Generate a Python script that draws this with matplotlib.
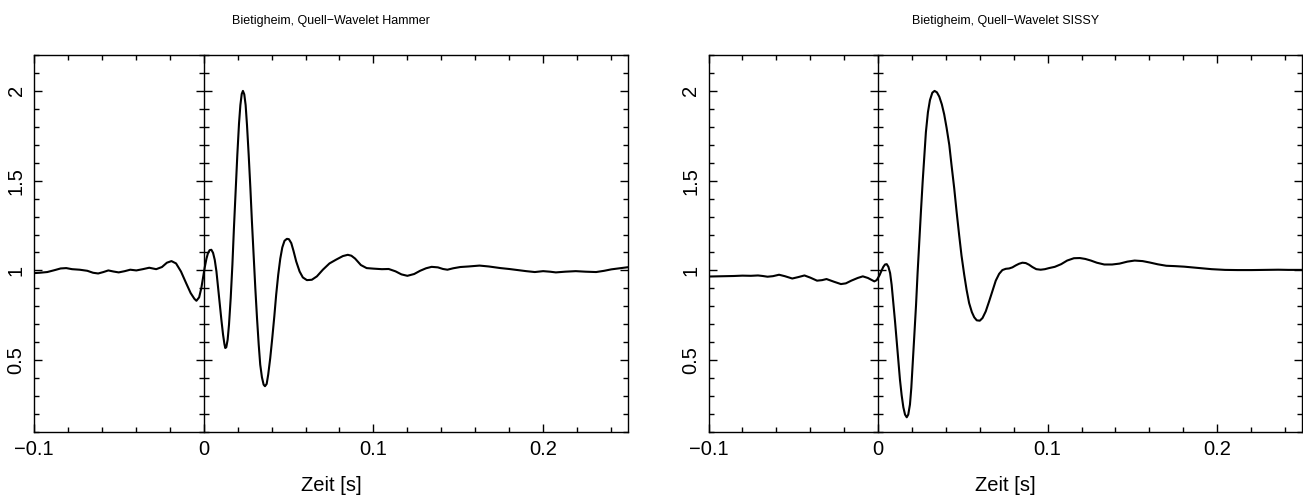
import matplotlib
matplotlib.use("Agg")
import matplotlib.pyplot as plt
from matplotlib.ticker import FixedLocator, FixedFormatter, MultipleLocator, NullLocator

plt.rcParams['font.family'] = ['Liberation Sans', 'DejaVu Sans']

# ---- text -------------------------------------------------------------
titles = ["Bietigheim, Quell\u2212Wavelet Hammer",
          "Bietigheim, Quell\u2212Wavelet SISSY"]
x_label = "Zeit [s]"
x_ticks = [-0.1, 0.0, 0.1, 0.2]
x_ticklabels = ["\u22120.1", "0", "0.1", "0.2"]
y_ticks = [0.5, 1.0, 1.5, 2.0]
y_ticklabels = ["0.5", "1", "1.5", "2"]

# ---- source wavelet, hammer blow (time [s], amplitude) ----------------
hammer_t = [-0.1001, -0.0967, -0.0922, -0.0877, -0.0843, -0.0810, -0.0776,
            -0.0731, -0.0686, -0.0652, -0.0622, -0.0591, -0.0562, -0.0532,
            -0.0501, -0.0465, -0.0433, -0.0397, -0.0359, -0.0321, -0.0280,
            -0.0246, -0.0217, -0.0190, -0.0163, -0.0134, -0.0104, -0.0077,
            -0.0055, -0.0043, -0.0027, -0.0014, -0.0004, 0.0006, 0.0016,
            0.0025, 0.0035, 0.0045, 0.0055, 0.0065, 0.0075, 0.0084, 0.0094,
            0.0104, 0.0114, 0.0122, 0.0127, 0.0133, 0.0141, 0.0149, 0.0159,
            0.0169, 0.0178, 0.0188, 0.0198, 0.0208, 0.0216, 0.0224, 0.0231,
            0.0239, 0.0247, 0.0255, 0.0265, 0.0275, 0.0284, 0.0294, 0.0304,
            0.0314, 0.0324, 0.0333, 0.0343, 0.0353, 0.0361, 0.0371, 0.0380,
            0.0392, 0.0404, 0.0416, 0.0427, 0.0439, 0.0451, 0.0463, 0.0476,
            0.0490, 0.0502, 0.0516, 0.0529, 0.0545, 0.0565, 0.0584, 0.0608,
            0.0637, 0.0667, 0.0702, 0.0741, 0.0780, 0.0820, 0.0849, 0.0870,
            0.0892, 0.0926, 0.0960, 0.1000, 0.1050, 0.1090, 0.1130, 0.1165,
            0.1200, 0.1240, 0.1275, 0.1310, 0.1343, 0.1380, 0.1410, 0.1436,
            0.1470, 0.1512, 0.1560, 0.1625, 0.1680, 0.1749, 0.1800, 0.1850,
            0.1900, 0.1951, 0.2000, 0.2040, 0.2075, 0.2130, 0.2192, 0.2250,
            0.2312, 0.2360, 0.2402, 0.2450, 0.2500]
hammer_a = [0.985, 0.987, 0.991, 1.002, 1.011, 1.013, 1.007,
            1.004, 0.998, 0.987, 0.983, 0.991, 1.000, 0.994,
            0.989, 0.996, 1.004, 1.000, 1.007, 1.015, 1.007,
            1.019, 1.043, 1.052, 1.039, 0.994, 0.930, 0.874,
            0.842, 0.831, 0.850, 0.902, 0.961, 1.017, 1.065,
            1.096, 1.113, 1.115, 1.098, 1.059, 0.994, 0.911, 0.818,
            0.726, 0.642, 0.590, 0.568, 0.572, 0.614, 0.698, 0.846,
            1.032, 1.235, 1.439, 1.643, 1.819, 1.921, 1.983, 2.000,
            1.981, 1.921, 1.810, 1.643, 1.458, 1.273, 1.087, 0.902,
            0.735, 0.587, 0.475, 0.405, 0.364, 0.355, 0.368, 0.420,
            0.512, 0.624, 0.744, 0.865, 0.976, 1.065, 1.128, 1.165,
            1.176, 1.174, 1.152, 1.109, 1.050, 0.994, 0.961, 0.946,
            0.948, 0.967, 1.004, 1.039, 1.060, 1.080, 1.087, 1.082,
            1.066, 1.030, 1.013, 1.010, 1.007, 1.008, 0.995, 0.978,
            0.970, 0.980, 0.998, 1.012, 1.020, 1.017, 1.008, 1.004,
            1.012, 1.019, 1.022, 1.027, 1.022, 1.013, 1.008, 1.002,
            0.996, 0.991, 0.996, 0.993, 0.989, 0.993, 0.996, 0.993,
            0.991, 0.998, 1.006, 1.012, 1.018]

# ---- source wavelet, SISSY (time [s], amplitude) ----------------------
sissy_t = [-0.1000, -0.0950, -0.0900, -0.0850, -0.0800, -0.0750, -0.0708,
           -0.0680, -0.0652, -0.0620, -0.0584, -0.0550, -0.0506, -0.0470,
           -0.0434, -0.0400, -0.0360, -0.0330, -0.0304, -0.0260, -0.0219,
           -0.0190, -0.0158, -0.0120, -0.0090, -0.0060, -0.0022, -0.0008,
           0.0008, 0.0020, 0.0031, 0.0041, 0.0051, 0.0061, 0.0071, 0.0080,
           0.0090, 0.0100, 0.0110, 0.0120, 0.0129, 0.0139, 0.0149, 0.0159,
           0.0169, 0.0178, 0.0188, 0.0196, 0.0204, 0.0214, 0.0224, 0.0233,
           0.0243, 0.0253, 0.0263, 0.0273, 0.0282, 0.0294, 0.0306, 0.0320,
           0.0333, 0.0347, 0.0361, 0.0376, 0.0390, 0.0404, 0.0420, 0.0433,
           0.0449, 0.0463, 0.0478, 0.0492, 0.0508, 0.0522, 0.0537, 0.0553,
           0.0567, 0.0582, 0.0600, 0.0616, 0.0635, 0.0655, 0.0675, 0.0694,
           0.0714, 0.0733, 0.0753, 0.0773, 0.0792, 0.0812, 0.0831, 0.0851,
           0.0871, 0.0890, 0.0910, 0.0933, 0.0959, 0.0984, 0.1008, 0.1042,
           0.1080, 0.1115, 0.1155, 0.1190, 0.1222, 0.1255, 0.1290, 0.1334,
           0.1380, 0.1424, 0.1470, 0.1513, 0.1560, 0.1603, 0.1650, 0.1700,
           0.1750, 0.1805, 0.1850, 0.1900, 0.1967, 0.2046, 0.2120, 0.2203,
           0.2280, 0.2360, 0.2420, 0.2500]
sissy_a = [0.966, 0.967, 0.968, 0.969, 0.971, 0.970, 0.972,
           0.969, 0.965, 0.968, 0.976, 0.968, 0.955, 0.963,
           0.972, 0.960, 0.943, 0.946, 0.952, 0.937, 0.924,
           0.928, 0.943, 0.958, 0.967, 0.958, 0.939, 0.946,
           0.972, 0.998, 1.020, 1.033, 1.035, 1.020, 0.985, 0.920,
           0.818, 0.716, 0.605, 0.494, 0.392, 0.305, 0.238, 0.197,
           0.182, 0.197, 0.253, 0.346, 0.475, 0.642, 0.809, 0.985,
           1.161, 1.332, 1.495, 1.643, 1.770, 1.881, 1.949, 1.990,
           2.000, 1.992, 1.968, 1.925, 1.869, 1.795, 1.699, 1.588,
           1.458, 1.328, 1.198, 1.083, 0.976, 0.892, 0.818, 0.768,
           0.739, 0.722, 0.720, 0.735, 0.772, 0.828, 0.887, 0.943,
           0.981, 1.002, 1.009, 1.011, 1.017, 1.028, 1.037, 1.043,
           1.041, 1.032, 1.019, 1.007, 1.004, 1.007, 1.013, 1.020,
           1.035, 1.055, 1.068, 1.069, 1.064, 1.055, 1.043, 1.033,
           1.033, 1.038, 1.049, 1.055, 1.052, 1.044, 1.034, 1.026,
           1.024, 1.021, 1.017, 1.013, 1.007, 1.003, 1.002, 1.002,
           1.003, 1.004, 1.003, 1.003]

x_range = (-0.1, 0.25)
y_range = (0.1, 2.2)

W, H = 1303, 498
fig = plt.figure(figsize=(W / 100, H / 100), dpi=100)
fig.patch.set_facecolor("white")

panel_boxes = [(34, 55, 628, 432), (708.5, 55, 1302, 432)]
series = [(hammer_t, hammer_a), (sissy_t, sissy_a)]

tick_kw = dict(colors="black", width=1.0)

for (x0, y0, x1, y1), (t, a), title in zip(panel_boxes, series, titles):
    ax = fig.add_axes([x0 / W, 1 - y1 / H, (x1 - x0) / W, (y1 - y0) / H])
    ax.plot(t, a, color="black", lw=1.5, solid_joinstyle="round",
            solid_capstyle="round", zorder=3)
    ax.set_xlim(*x_range)
    ax.set_ylim(*y_range)
    for sp in ax.spines.values():
        sp.set_linewidth(1.0)
        sp.set_color("black")

    ax.xaxis.set_major_locator(FixedLocator(x_ticks))
    ax.xaxis.set_major_formatter(FixedFormatter(x_ticklabels))
    ax.xaxis.set_minor_locator(MultipleLocator(0.02))
    ax.yaxis.set_major_locator(FixedLocator(y_ticks))
    ax.yaxis.set_major_formatter(FixedFormatter(y_ticklabels))
    ax.yaxis.set_minor_locator(MultipleLocator(0.1))

    ax.tick_params(which="both", direction="in", top=True, right=True, **tick_kw)
    ax.tick_params(which="major", length=6, labelsize=14.5, pad=6)
    ax.tick_params(which="minor", length=3.5)
    ax.tick_params(axis="y", labelrotation=90)
    for lab in ax.get_yticklabels():
        lab.set_va("center")

    ax.set_title(title, fontsize=9, pad=22)
    ax.set_xlabel(x_label, fontsize=14.5)
    ax.xaxis.set_label_coords(0.5, -0.118)

    # time-zero axis with ticks on both sides
    zax = ax.inset_axes([0.0, y_range[0], x_range[1], y_range[1] - y_range[0]],
                        transform=ax.transData, zorder=1)
    zax.set_xlim(0, x_range[1])
    zax.set_ylim(*y_range)
    zax.patch.set_visible(False)
    for name, sp in zax.spines.items():
        sp.set_visible(name == "left")
    zax.spines["left"].set_linewidth(1.0)
    zax.xaxis.set_major_locator(NullLocator())
    zax.yaxis.set_major_locator(FixedLocator(y_ticks))
    zax.yaxis.set_minor_locator(MultipleLocator(0.1))
    zax.tick_params(which="both", direction="inout", labelleft=False, **tick_kw)
    zax.tick_params(which="major", length=12)
    zax.tick_params(which="minor", length=6.5)

fig.savefig("out.png", dpi=100, facecolor="white")
